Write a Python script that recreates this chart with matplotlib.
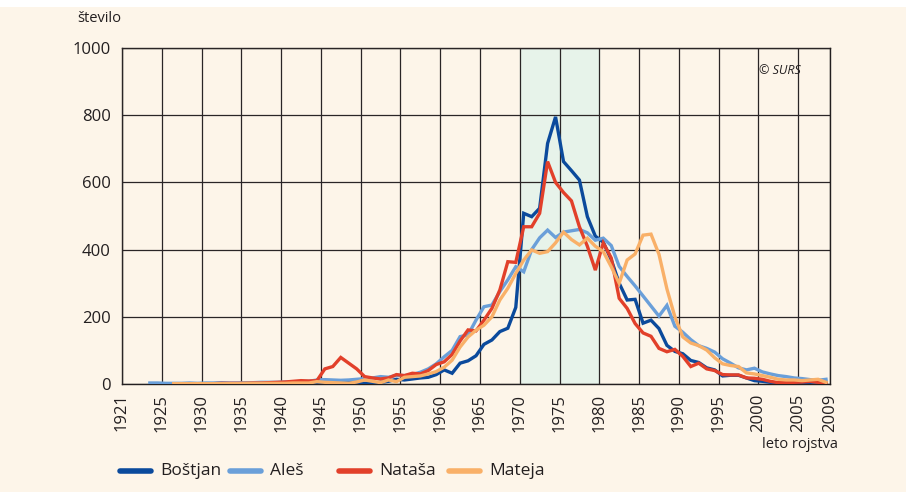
import numpy as np
import matplotlib
matplotlib.use('Agg')
import matplotlib.pyplot as plt
from matplotlib.patches import Rectangle
from matplotlib.lines import Line2D

# number of births per year for each name
bostjan_start = 1935
bostjan = [0, 1, 1, 1, 2,
           2, 2, 2, 3, 3, 3, 4, 4, 4, 5,
           4, 2, 3, 5, 8, 14, 12, 15, 18, 20,
           28, 42, 32, 62, 69, 84, 118, 131, 156, 166,
           228, 508, 498, 523, 716, 795, 662, 635, 607, 498,
           440, 422, 370, 300, 250, 252, 181, 190, 165, 115,
           97, 90, 70, 64, 48, 42, 24, 26, 26, 18,
           10, 8, 5, 3, 3, 4, 5, 5, 6, 5]

ales_start = 1924
ales = [3, 3, 2, 2, 2, 3, 2, 3, 3, 4, 3, 3, 4, 4, 5, 5,
        5, 6, 6, 7, 8, 12, 13, 12, 11, 12,
        14, 16, 18, 22, 20, 26, 25, 28, 35, 45,
        60, 81, 100, 141, 146, 190, 230, 235, 275, 310,
        349, 334, 400, 435, 458, 436, 452, 456, 460, 450,
        428, 434, 412, 350, 320, 292, 262, 232, 202, 234,
        172, 154, 132, 114, 106, 95, 75, 62, 48, 42,
        47, 36, 30, 25, 22, 18, 16, 13, 11, 14]

natasa_start = 1927
natasa = [1, 1, 1, 1, 1, 1, 2, 2, 2, 2, 3, 3, 4,
          5, 6, 8, 10, 9, 10, 45, 52, 79, 62,
          45, 22, 18, 15, 18, 28, 25, 32, 30, 40,
          58, 66, 88, 128, 161, 158, 190, 225, 280, 364,
          362, 468, 468, 508, 662, 600, 570, 545, 468, 410,
          339, 420, 375, 255, 225, 180, 152, 142, 106, 96,
          103, 82, 52, 62, 45, 40, 28, 27, 27, 18,
          17, 14, 8, 4, 4, 5, 6, 8, 5, 2]

mateja_start = 1927
mateja = [1, 1, 1, 1, 1, 1, 1, 1, 1, 2, 2, 2, 2,
          2, 2, 3, 3, 3, 7, 5, 4, 3, 2,
          6, 12, 8, 4, 12, 7, 20, 22, 24, 30,
          37, 50, 71, 110, 140, 160, 175, 200, 250, 285,
          329, 369, 399, 389, 394, 420, 452, 430, 414, 434,
          410, 394, 349, 300, 369, 387, 443, 446, 386, 283,
          200, 140, 122, 114, 101, 78, 60, 55, 52, 33,
          30, 25, 20, 14, 12, 12, 10, 12, 14, 5]

names = ['Boštjan', 'Aleš', 'Nataša', 'Mateja']
colors = ['#0b4a9c', '#6a9fd9', '#e2402a', '#f9b068']

tick_years = [1921, 1925, 1930, 1935, 1940, 1945, 1950, 1955, 1960, 1965,
              1970, 1975, 1980, 1985, 1990, 1995, 2000, 2005, 2009]
y_ticks = [0, 200, 400, 600, 800, 1000]

bg = '#fdf5e9'
ink = '#231f20'
plt.rcParams['font.family'] = ['Open Sans', 'DejaVu Sans']

W, H = 906, 492
fig = plt.figure(figsize=(W / 100, H / 100), dpi=100, facecolor=bg)
fig.patches.append(Rectangle((0, 0.985), 1, 0.015, transform=fig.transFigure,
                             facecolor='white', edgecolor='none'))
ax = fig.add_axes([122 / W, 108 / H, 708 / W, 336 / H])
ax.set_facecolor(bg)

# every year is a category; the grid lines sit at the right end of the labelled year
x_lo, x_hi = tick_years[0] - 0.5, tick_years[-1] + 0.5
ax.axvspan(1970.5, 1980.5, color='#e7f3ea', zorder=0)

series = [(bostjan_start, bostjan), (ales_start, ales),
          (natasa_start, natasa), (mateja_start, mateja)]
for i in [1, 0, 2, 3]:
    start, vals = series[i]
    yrs = np.arange(start, start + len(vals))
    ax.plot(yrs, vals, color=colors[i], linewidth=2.4,
            solid_joinstyle='miter', zorder=3 + i)

tick_pos = [x_lo] + [t + 0.5 for t in tick_years[1:-1]] + [x_hi]
ax.set_xlim(x_lo, x_hi)
ax.set_ylim(0, 1000)
ax.set_xticks(tick_pos)
ax.set_xticklabels([str(t) for t in tick_years], rotation=90, fontsize=12)
ax.set_yticks(y_ticks)
ax.set_yticklabels([str(v) for v in y_ticks], fontsize=12)
ax.tick_params(axis='both', length=0, colors=ink)
ax.tick_params(axis='x', pad=7)
ax.tick_params(axis='y', pad=8)
ax.grid(True, color='#2a2526', linewidth=0.9, zorder=1)
ax.set_axisbelow(False)
for s in ax.spines.values():
    s.set_color(ink)
    s.set_linewidth(1.0)
    s.set_zorder(2)
for gl in ax.get_xgridlines() + ax.get_ygridlines():
    gl.set_zorder(1)

fig.text(77 / W, 1 - 18 / H, 'število', fontsize=10.5, color=ink,
         va='center', ha='left')
fig.text(838 / W, 1 - 444 / H, 'leto rojstva', fontsize=10.5, color=ink,
         va='center', ha='right')
ax.text(0.958, 0.932, '© SURS', transform=ax.transAxes, fontsize=9,
        style='italic', ha='right', va='center', color=ink)

# legend laid out by hand, as in the original
leg_x = [118, 228, 337, 447]
leg_y = 1 - 471 / H
for x0, name, c in zip(leg_x, names, colors):
    fig.add_artist(Line2D([(x0 + 2) / W, (x0 + 33) / W], [leg_y, leg_y],
                          color=c, linewidth=4, solid_capstyle='round'))
    fig.text((x0 + 42) / W, leg_y, name, fontsize=12.5, color=ink,
             va='center', ha='left')

fig.savefig('out.png', dpi=100, facecolor=bg)
